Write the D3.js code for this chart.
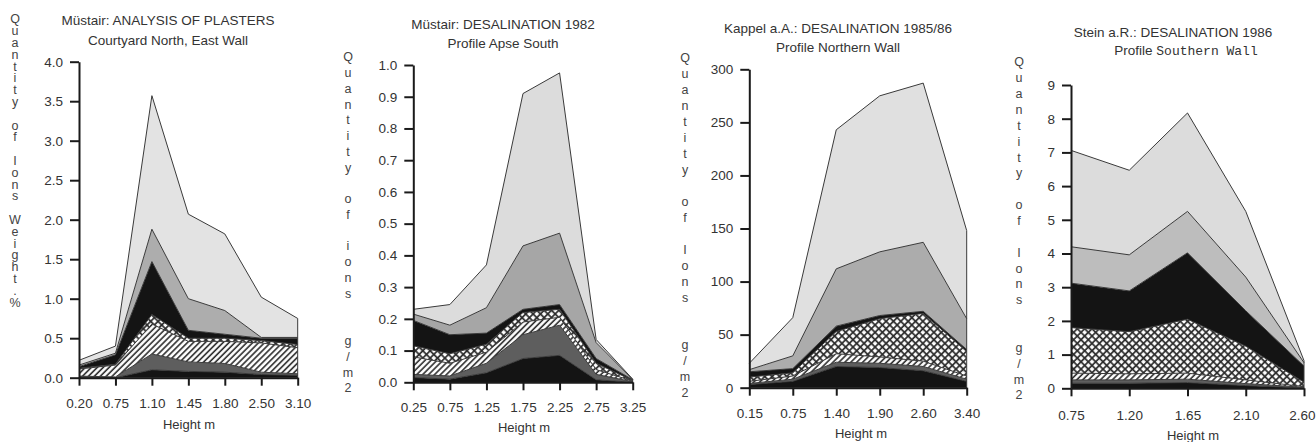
<!DOCTYPE html>
<html>
<head>
<meta charset="utf-8">
<script src="https://cdn.jsdelivr.net/npm/d3@7/dist/d3.min.js"></script>
<style>
  html, body { margin: 0; padding: 0; background: #fff; }
  svg { display: block; }
  text { font-family: "Liberation Sans", Arial, Helvetica, sans-serif; fill: #333; }
</style>
</head>
<body>
<svg id="chart" width="1316" height="442"></svg>
<script>
// ---------------- DATA ----------------
// Layers (bottom -> top): black, dark grey, hatched, cross-hatched, black, medium grey, light grey
const layerKeys = ["s1", "s2", "s3", "s4", "s5", "s6", "s7"];

// Panel 1: Müstair, analysis of plasters (weight %)
const p1Heights = ["0.20", "0.75", "1.10", "1.45", "1.80", "2.50", "3.10"];
const p1Layers = [
  [0.01, 0.00, 0.10, 0.08, 0.07, 0.04, 0.03],
  [0.01, 0.01, 0.20, 0.12, 0.11, 0.03, 0.02],
  [0.09, 0.15, 0.38, 0.26, 0.28, 0.37, 0.33],
  [0.01, 0.01, 0.12, 0.04, 0.04, 0.03, 0.04],
  [0.02, 0.12, 0.67, 0.10, 0.05, 0.03, 0.08],
  [0.02, 0.02, 0.41, 0.40, 0.30, 0.01, 0.01],
  [0.06, 0.09, 1.69, 1.07, 0.97, 0.51, 0.24]
];
const p1Ticks = [0, 0.5, 1.0, 1.5, 2.0, 2.5, 3.0, 3.5, 4.0];

// Panel 2: Müstair, desalination 1982 (g/m2)
const p2Heights = ["0.25", "0.75", "1.25", "1.75", "2.25", "2.75", "3.25"];
const p2Layers = [
  [0.015, 0.010, 0.030, 0.075, 0.085, 0.008, 0.000],
  [0.010, 0.010, 0.030, 0.075, 0.095, 0.017, 0.002],
  [0.055, 0.040, 0.035, 0.040, 0.025, 0.015, 0.002],
  [0.035, 0.030, 0.025, 0.030, 0.025, 0.020, 0.002],
  [0.080, 0.060, 0.035, 0.010, 0.015, 0.015, 0.002],
  [0.020, 0.030, 0.080, 0.200, 0.225, 0.050, 0.001],
  [0.015, 0.065, 0.135, 0.480, 0.505, 0.010, 0.001]
];
const p2Ticks = [0, 0.1, 0.2, 0.3, 0.4, 0.5, 0.6, 0.7, 0.8, 0.9, 1.0];

// Panel 3: Kappel a.A., desalination 1985/86 (g/m2)
const p3Heights = ["0.15", "0.75", "1.40", "1.90", "2.60", "3.40"];
const p3Layers = [
  [3, 6, 20, 19, 16, 6],
  [1, 2, 4, 4, 4, 2],
  [2, 3, 8, 6, 5, 3],
  [4, 3, 21, 36, 45, 23],
  [5, 4, 5, 3, 2, 2],
  [2, 12, 54, 60, 65, 29],
  [6, 36, 131, 147, 150, 83]
];
const p3Ticks = [0, 50, 100, 150, 200, 250, 300];

// Panel 4: Stein a.R., desalination 1986 (g/m2)
const p4Heights = ["0.75", "1.20", "1.65", "2.10", "2.60"];
const p4Layers = [
  [0.15, 0.15, 0.17, 0.08, 0.01],
  [0.10, 0.10, 0.10, 0.06, 0.02],
  [0.20, 0.18, 0.18, 0.11, 0.02],
  [1.35, 1.25, 1.60, 1.00, 0.13],
  [1.32, 1.21, 1.97, 1.05, 0.48],
  [1.08, 1.07, 1.23, 1.00, 0.10],
  [2.86, 2.51, 2.92, 1.95, 0.06]
];
const p4Ticks = [0, 1, 2, 3, 4, 5, 6, 7, 8, 9];

// ---------------- LAYOUT ----------------
const panels = [
  { heights: p1Heights, layers: p1Layers, ticks: p1Ticks, fmt: d3.format(".1f"), max: 4.0,
    x0: 79, x1: 297.7, yBase: 377.7, yTop: 61.7,
    title1: "Müstair: ANALYSIS OF PLASTERS", title2: "Courtyard North, East Wall",
    tx: 168, ty1: 20, ty2: 40,
    ylabel: "Quantity of Ions Weight.%", lx: 15, ly: 19, lstep: 11.8,
    xLabY: 26, hY: 47, hX: 189, l6: "#adadad", l7: "#e3e3e3" },
  { heights: p2Heights, layers: p2Layers, ticks: p2Ticks, fmt: d3.format(".1f"), max: 1.0,
    x0: 413.3, x1: 632.7, yBase: 382.3, yTop: 65,
    title1: "Müstair: DESALINATION 1982", title2: "Profile Apse South",
    tx: 503, ty1: 24, ty2: 43,
    ylabel: "Quantity of ions  g/m2", lx: 348, ly: 57, lstep: 15.76,
    xLabY: 25, hY: 45, hX: 524, l6: "#a6a6a6", l7: "#dcdcdc" },
  { heights: p3Heights, layers: p3Layers, ticks: p3Ticks, fmt: d3.format("d"), max: 300,
    x0: 749.3, x1: 966.7, yBase: 387.7, yTop: 69.3,
    title1: "Kappel a.A.: DESALINATION 1985/86", title2: "Profile Northern Wall",
    tx: 838, ty1: 28, ty2: 47,
    ylabel: "Quantity of Ions  g/m2", lx: 685, ly: 58, lstep: 15.95,
    xLabY: 25.5, hY: 45.5, hX: 861, l6: "#acacac", l7: "#e0e0e0" },
  { heights: p4Heights, layers: p4Layers, ticks: p4Ticks, fmt: d3.format("d"), max: 9,
    x0: 1071, x1: 1304, yBase: 388.3, yTop: 85,
    title1: "Stein a.R.: DESALINATION 1986", title2: null,
    tx: 1173, ty1: 32, ty2: 50,
    ylabel: "Quantity of Ions  g/m2", lx: 1019, ly: 62, lstep: 15.86,
    xLabY: 26.5, hY: 47, hX: 1193, l6: "#bdbdbd", l7: "#dcdcdc" }
];

const svg = d3.select("#chart");
const defs = svg.append("defs");

// diagonal hatch "////"
const hatch = defs.append("pattern").attr("id", "hatch")
  .attr("patternUnits", "userSpaceOnUse").attr("width", 4.2).attr("height", 4.2)
  .attr("patternTransform", "rotate(45)");
hatch.append("rect").attr("width", 4.2).attr("height", 4.2).attr("fill", "#fff");
hatch.append("line").attr("x1", 1).attr("y1", 0).attr("x2", 1).attr("y2", 4.2)
  .attr("stroke", "#2a2a2a").attr("stroke-width", 1.6);

// cross hatch with white holes
const cross = defs.append("pattern").attr("id", "cross")
  .attr("patternUnits", "userSpaceOnUse").attr("width", 5.2).attr("height", 5.2)
  .attr("patternTransform", "rotate(45)");
cross.append("rect").attr("width", 5.2).attr("height", 5.2).attr("fill", "#fff");
cross.append("path").attr("d", "M0,1H5.2M1,0V5.2")
  .attr("stroke", "#2a2a2a").attr("stroke-width", 1.7);

panels.forEach((p, pi) => {
  const fills = ["#141414", "#5e5e5e", "url(#hatch)", "url(#cross)", "#141414", p.l6, p.l7];
  const x = d3.scalePoint().domain(p.heights).range([p.x0, p.x1]).padding(0);
  const y = d3.scaleLinear().domain([0, p.max]).range([p.yBase, p.yTop]);

  const rows = p.heights.map((h, i) => {
    const r = { h };
    layerKeys.forEach((k, li) => { r[k] = p.layers[li][i]; });
    return r;
  });
  const series = d3.stack().keys(layerKeys)(rows);

  const g = svg.append("g");

  const area = d3.area()
    .x(d => x(d.data.h))
    .y0(d => y(d[0]))
    .y1(d => y(d[1]));
  const topLine = d3.line()
    .x(d => x(d.data.h))
    .y(d => y(d[1]));

  g.selectAll("path.layer").data(series).join("path")
    .attr("class", "layer")
    .attr("d", area)
    .attr("fill", (d, i) => fills[i])
    .attr("stroke", "none");

  g.selectAll("path.edge").data(series).join("path")
    .attr("class", "edge")
    .attr("d", topLine)
    .attr("fill", "none")
    .attr("stroke", "#3a3a3a")
    .attr("stroke-width", 1);

  // right-hand closing edge
  const last = p.heights[p.heights.length - 1];
  const lastTop = series[series.length - 1][p.heights.length - 1][1];
  g.append("line")
    .attr("x1", x(last)).attr("x2", x(last))
    .attr("y1", y(0)).attr("y2", y(lastTop))
    .attr("stroke", "#3a3a3a").attr("stroke-width", 1);

  // axes
  const yAxis = d3.axisLeft(y).tickValues(p.ticks).tickFormat(p.fmt)
    .tickSize(9).tickSizeOuter(0).tickPadding(7);
  const ya = g.append("g").call(yAxis);
  ya.select(".domain").attr("stroke", "#1a1a1a").attr("stroke-width", 2);
  ya.selectAll(".tick line").attr("stroke", "#1a1a1a").attr("stroke-width", 2);
  ya.selectAll(".tick text").attr("font-size", 13.5).attr("fill", "#333")
    .attr("font-family", "Liberation Sans, Arial, sans-serif");
  ya.attr("transform", `translate(${p.x0},0)`);

  const xAxis = d3.axisBottom(x).tickSize(8).tickSizeOuter(0);
  const xa = g.append("g").attr("transform", `translate(0,${p.yBase})`).call(xAxis);
  xa.select(".domain").attr("stroke", "#1a1a1a").attr("stroke-width", 2);
  xa.selectAll(".tick line").attr("stroke", "#1a1a1a").attr("stroke-width", 2);
  xa.selectAll(".tick text").attr("font-size", 13.5).attr("fill", "#333")
    .attr("font-family", "Liberation Sans, Arial, sans-serif")
    .attr("y", p.xLabY).attr("dy", "0.35em");
  // keep a label that would run past the right edge inside the picture
  xa.selectAll(".tick text").each(function (d) {
    const bb = this.getBBox();
    const right = x(d) + bb.x + bb.width;
    if (right > 1315) {
      d3.select(this).attr("text-anchor", "end").attr("x", 1315 - x(d));
    }
  });

  // axis title
  g.append("text").attr("x", p.hX).attr("y", p.yBase + p.hY).attr("dy", "0.35em")
    .attr("text-anchor", "middle").attr("font-size", 13).text("Height  m");

  // panel titles
  g.append("text").attr("x", p.tx).attr("y", p.ty1).attr("dy", "0.35em")
    .attr("text-anchor", "middle").attr("font-size", 13.5).text(p.title1);
  if (p.title2) {
    g.append("text").attr("x", p.tx).attr("y", p.ty2).attr("dy", "0.35em")
      .attr("text-anchor", "middle").attr("font-size", 13.5).text(p.title2);
  } else {
    const t = g.append("text").attr("x", 1186).attr("y", p.ty2).attr("dy", "0.35em")
      .attr("text-anchor", "middle").attr("font-size", 13.5);
    t.append("tspan").text("Profile ");
    t.append("tspan").attr("font-family", "Liberation Mono, DejaVu Sans Mono, monospace")
      .attr("font-size", 13).text("Southern Wall");
  }

  // vertical stacked-letter y label
  const chars = Array.from(p.ylabel);
  g.selectAll("text.vl").data(chars).join("text")
    .attr("class", "vl")
    .attr("x", p.lx)
    .attr("y", (c, i) => p.ly + i * p.lstep)
    .attr("dy", "0.35em")
    .attr("text-anchor", "middle")
    .attr("font-size", 12.5)
    .style("fill", "#444")
    .text(c => c === " " ? "" : c);
});
</script>
</body>
</html>
